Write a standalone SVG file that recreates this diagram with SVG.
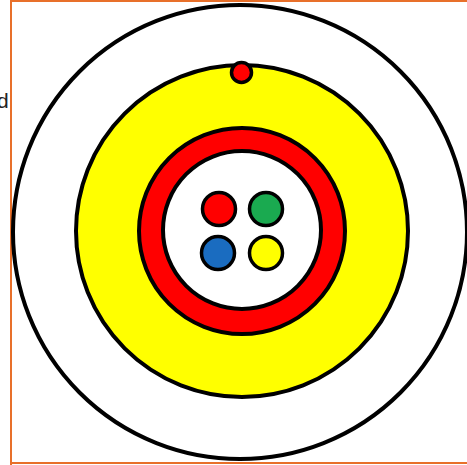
<svg xmlns="http://www.w3.org/2000/svg" width="467" height="465" viewBox="0 0 467 465">
<style>
.k{stroke:#000;stroke-width:4}
.s{stroke:#000;stroke-width:3.5}
</style>
<rect width="467" height="465" fill="#fff"/>
<g id="border" fill="none" stroke="#e8702a" stroke-width="2">
<line x1="11" y1="1" x2="467" y2="1"/>
<line x1="11" y1="0" x2="11" y2="465"/>
<line x1="11" y1="463" x2="467" y2="463"/>
</g>
<text x="-3" y="108" font-family="Liberation Sans, Arial, sans-serif" font-size="21" fill="#222">d</text>
<g id="outer"><circle cx="240" cy="232" r="227" fill="#fff" class="k"/></g>
<g id="yellow"><circle cx="242" cy="231" r="166" fill="#ffff00" class="k"/></g>
<g id="redring"><circle cx="242" cy="231" r="103" fill="#ff0000" class="k"/></g>
<g id="inner"><circle cx="242" cy="230" r="79" fill="#fff" class="k"/></g>
<g id="topdot"><circle cx="241.5" cy="72.5" r="10" fill="#ff0000" class="s"/></g>
<g id="c1"><circle cx="219" cy="209" r="16.5" fill="#ff0000" class="s"/></g>
<g id="c2"><circle cx="266" cy="209" r="16.5" fill="#1aaa50" class="s"/></g>
<g id="c3"><circle cx="218" cy="253" r="16.5" fill="#1a6cc0" class="s"/></g>
<g id="c4"><circle cx="266" cy="253" r="16.5" fill="#ffff00" class="s"/></g>
</svg>
